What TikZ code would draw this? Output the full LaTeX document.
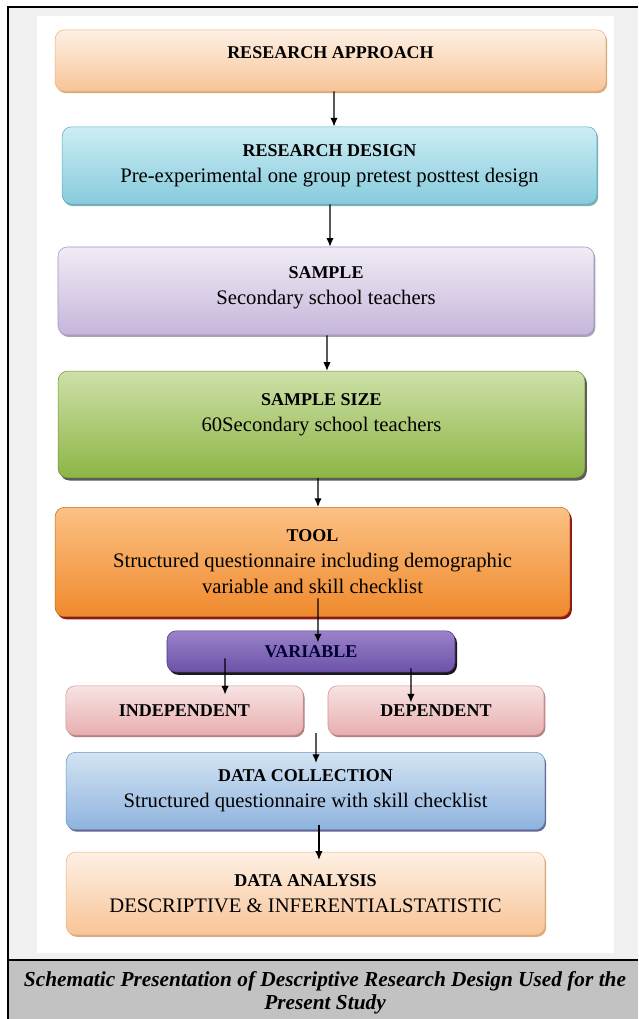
\documentclass[tikz,border=0pt]{standalone}
\usepackage{fontspec}
\setmainfont{Liberation Serif}
\usetikzlibrary{shadows,arrows.meta}
\definecolor{framegray}{HTML}{F0F0F0}
\definecolor{capgray}{HTML}{C2C2C2}
\definecolor{peachT}{HTML}{FDF0E4}\definecolor{peachB}{HTML}{F8C497}\definecolor{peachD}{HTML}{EFB07A}
\definecolor{cyanT}{HTML}{CDEDF4}\definecolor{cyanB}{HTML}{86CBDC}\definecolor{cyanD}{HTML}{5CA9BC}
\definecolor{lilT}{HTML}{F0ECF5}\definecolor{lilB}{HTML}{C6B5DB}\definecolor{lilD}{HTML}{A593C4}
\definecolor{grnT}{HTML}{CDE0A8}\definecolor{grnB}{HTML}{8DB544}\definecolor{grnD}{HTML}{6E8F33}
\definecolor{orT}{HTML}{FBC185}\definecolor{orB}{HTML}{F08A2C}\definecolor{orD}{HTML}{C56A1C}
\definecolor{purT}{HTML}{9A82CB}\definecolor{purB}{HTML}{6C52A8}\definecolor{purD}{HTML}{4B3680}
\definecolor{pinkT}{HTML}{F8E3E3}\definecolor{pinkB}{HTML}{E8AEAE}\definecolor{pinkD}{HTML}{D49393}
\definecolor{bluT}{HTML}{D3E3F3}\definecolor{bluB}{HTML}{8EB3DE}\definecolor{bluD}{HTML}{6D93C1}
\newcommand{\ttl}[1]{{\fontsize{13.5}{19.5}\selectfont\bfseries #1}}
\begin{document}
\begin{tikzpicture}[x=0.75pt,y=-0.75pt,
    box/.style={rectangle,rounded corners=7pt,align=center,font=\fontsize{15.5}{19.5}\selectfont,inner sep=2pt},
    peach/.style={box,top color=peachT,bottom color=peachB,draw=peachD,drop shadow={shadow xshift=1pt,shadow yshift=-1.5pt,fill=orange!70!black,opacity=.5}},
    cyanbox/.style={box,top color=cyanT,bottom color=cyanB,draw=cyanD,drop shadow={shadow xshift=1pt,shadow yshift=-1.5pt,fill=teal!80!black,opacity=.5}},
    lilac/.style={box,top color=lilT,bottom color=lilB,draw=lilD,drop shadow={shadow xshift=1pt,shadow yshift=-1.5pt,fill=lilD!50!black,opacity=.5}},
    greenbox/.style={box,top color=grnT,bottom color=grnB,draw=grnD,drop shadow={shadow xshift=1.5pt,shadow yshift=-2pt,fill=black!80,opacity=.8}},
    orangebox/.style={box,top color=orT,bottom color=orB,draw=orD,drop shadow={shadow xshift=1.5pt,shadow yshift=-2pt,fill=red!50!black,opacity=.9}},
    purplebox/.style={box,top color=purT,bottom color=purB,draw=purD,drop shadow={shadow xshift=1.5pt,shadow yshift=-2pt,fill=black,opacity=.9}},
    pinkbox/.style={box,top color=pinkT,bottom color=pinkB,draw=pinkD,drop shadow={shadow xshift=1pt,shadow yshift=-1.5pt,fill=red!40!black,opacity=.5}},
    bluebox/.style={box,top color=bluT,bottom color=bluB,draw=bluD,drop shadow={shadow xshift=1pt,shadow yshift=-1.5pt,fill=blue!30!black,opacity=.6}}]
  \useasboundingbox (0,0) rectangle (638,1019);
  % frame, panel and caption band
  \fill[framegray] (8,7) rectangle (638,1019);
  \fill[white] (37,16) rectangle (614,953);
  \fill[capgray] (8,960) rectangle (638,1019);
  \draw[line width=1.5pt] (8,1019) -- (8,7) -- (638,7);
  \draw[line width=1.5pt] (8,960) -- (638,960);
  \draw
    (330.5,60.5) node[peach,minimum width=413pt,minimum height=46pt] (appr){\ttl{RESEARCH APPROACH}\\[-7.5pt]\mbox{}}
    (329.5,165.5) node[cyanbox,minimum width=401pt,minimum height=58pt] (dsgn){\ttl{RESEARCH DESIGN}\\Pre-experimental one group pretest posttest design}
    (326,291) node[lilac,minimum width=402pt,minimum height=66pt] (smpl){\ttl{SAMPLE}\\Secondary school teachers\\[-12pt]\mbox{}}
    (321.5,424.5) node[greenbox,minimum width=395pt,minimum height=80pt] (size){\ttl{SAMPLE SIZE}\\60Secondary school teachers\\[-1.5pt]\mbox{}}
    (312.5,562) node[orangebox,minimum width=386pt,minimum height=82pt] (tool){\ttl{TOOL}\\Structured questionnaire including demographic\\variable and skill checklist}
    (311,651.5) node[purplebox,minimum width=216pt,minimum height=31pt,text=blue!20!black] (var){\ttl{VARIABLE}}
    (184.5,710.5) node[pinkbox,minimum width=178pt,minimum height=37pt] (indep){\ttl{INDEPENDENT}}
    (436,710.5) node[pinkbox,minimum width=162pt,minimum height=37pt] (dep){\ttl{DEPENDENT}}
    (305.5,791) node[bluebox,minimum width=359pt,minimum height=58pt] (coll){\ttl{DATA COLLECTION}\\Structured questionnaire with skill checklist}
    (305.5,893.5) node[peach,minimum width=359pt,minimum height=62pt] (anls){\ttl{DATA ANALYSIS}\\DESCRIPTIVE \& INFERENTIALSTATISTIC}
    (325,993) node[align=center,font=\fontsize{16}{17.5}\selectfont\bfseries\itshape] (cap){Schematic Presentation of Descriptive Research Design Used for the\\Present Study};
  \coordinate (split) at (316,733);
  \begin{scope}[-{Latex[length=6.5pt,width=5.5pt]},line width=1pt]
    \draw ([xshift=2.6pt]appr.south) to ([xshift=3.4pt]dsgn.north);
    \draw ([xshift=0.4pt]dsgn.south) to ([xshift=3pt]smpl.north);
    \draw ([xshift=0.8pt]smpl.south) to ([xshift=4.1pt]size.north);
    \draw ([xshift=-2.6pt]size.south) to ([xshift=4.1pt]tool.north);
    \draw ([xshift=4.1pt,yshift=14pt]tool.south) to ([xshift=5.2pt,yshift=-9pt]var.north);
    \draw ([xshift=-64.5pt,yshift=10.5pt]var.south) to ([xshift=30.4pt,yshift=-6.8pt]indep.north);
    \draw ([xshift=75pt,yshift=3pt]var.south) to ([xshift=-18.8pt,yshift=-12.8pt]dep.north);
    \draw (split) to ([xshift=7.9pt,yshift=-8.2pt]coll.north);
    \draw ([xshift=10.1pt,yshift=3.8pt]coll.south) to ([xshift=10.1pt,yshift=-6pt]anls.north);
  \end{scope}
\end{tikzpicture}
\end{document}
